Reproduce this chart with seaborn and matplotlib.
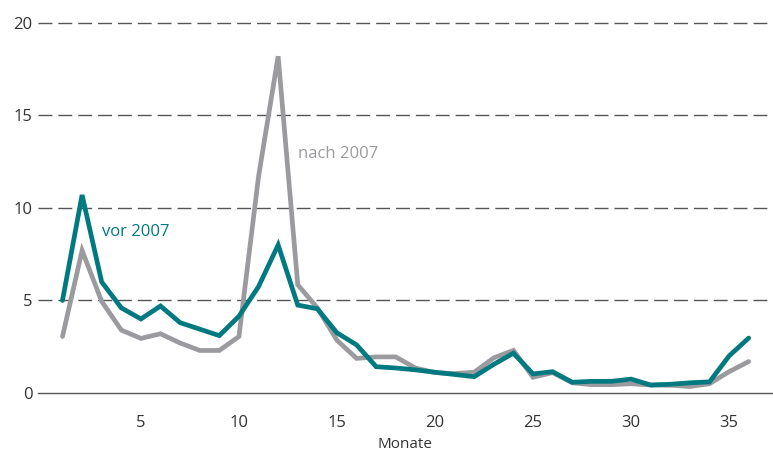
import matplotlib
matplotlib.use("Agg")
import matplotlib.pyplot as plt
import seaborn as sns
import pandas as pd

months = list(range(1, 37))
vor_2007 = [5.0, 10.7, 6.0, 4.6, 4.0, 4.7, 3.8, 3.45, 3.1, 4.15, 5.75, 8.0,
            4.75, 4.55, 3.25, 2.6, 1.42, 1.35, 1.25, 1.12, 1.0, 0.88, 1.55, 2.15,
            1.03, 1.15, 0.58, 0.63, 0.63, 0.75, 0.43, 0.47, 0.55, 0.6, 2.0, 2.97]
nach_2007 = [3.05, 7.7, 4.95, 3.4, 2.95, 3.2, 2.7, 2.3, 2.3, 3.05, 11.7, 18.2,
             5.85, 4.6, 2.85, 1.87, 1.95, 1.95, 1.35, 1.1, 1.05, 1.12, 1.9, 2.3,
             0.85, 1.1, 0.55, 0.45, 0.45, 0.5, 0.43, 0.42, 0.35, 0.5, 1.15, 1.7]
x_ticks = [5, 10, 15, 20, 25, 30, 35]
y_ticks = [0, 5, 10, 15, 20]

df = pd.DataFrame({"Monat": months * 2,
                   "Wert": nach_2007 + vor_2007,
                   "Gruppe": ["nach 2007"] * 36 + ["vor 2007"] * 36})

sns.set_style("white")
plt.rcParams["font.family"] = ["Open Sans", "DejaVu Sans"]

TEAL = "#007A80"
GRAY = "#9B9B9F"
TXT = "#333333"

fig = plt.figure(figsize=(7.73, 4.54), dpi=100)
ax = fig.add_axes([0.049, 0.1344, 0.951, 0.8326])

sns.lineplot(data=df, x="Monat", y="Wert", hue="Gruppe",
             palette={"nach 2007": GRAY, "vor 2007": TEAL},
             linewidth=3.4, legend=False, ax=ax, zorder=3)
for l in ax.lines:
    l.set_solid_capstyle("round")
    l.set_solid_joinstyle("miter")
    l.set_clip_on(False)

ax.set_xlim(-0.255, 37.24)
ax.set_ylim(0, 20.43)
ax.set_xticks(x_ticks)
ax.set_yticks(y_ticks)

for yv in y_ticks[1:]:
    ax.axhline(yv, color="#555555", lw=1.0, ls=(0, (10, 4.3)), zorder=1)

for s in ["top", "right", "left"]:
    ax.spines[s].set_visible(False)
ax.spines["bottom"].set_color("#555555")
ax.spines["bottom"].set_linewidth(1.0)

ax.tick_params(axis="x", direction="out", length=10, width=1.0, color="#555555",
               labelsize=12, labelcolor=TXT, pad=6)
ax.tick_params(axis="y", direction="in", length=12.5, width=1.0, color="#555555",
               labelsize=12, labelcolor=TXT, pad=4)

ax.set_xlabel("Monate", fontsize=11, color=TXT, labelpad=4)
ax.set_ylabel("")

ax.text(3.0, 8.7, "vor 2007", color=TEAL, fontsize=12, va="center", ha="left")
ax.text(13.0, 12.9, "nach 2007", color=GRAY, fontsize=12, va="center", ha="left")

fig.savefig("out.png", dpi=100)
